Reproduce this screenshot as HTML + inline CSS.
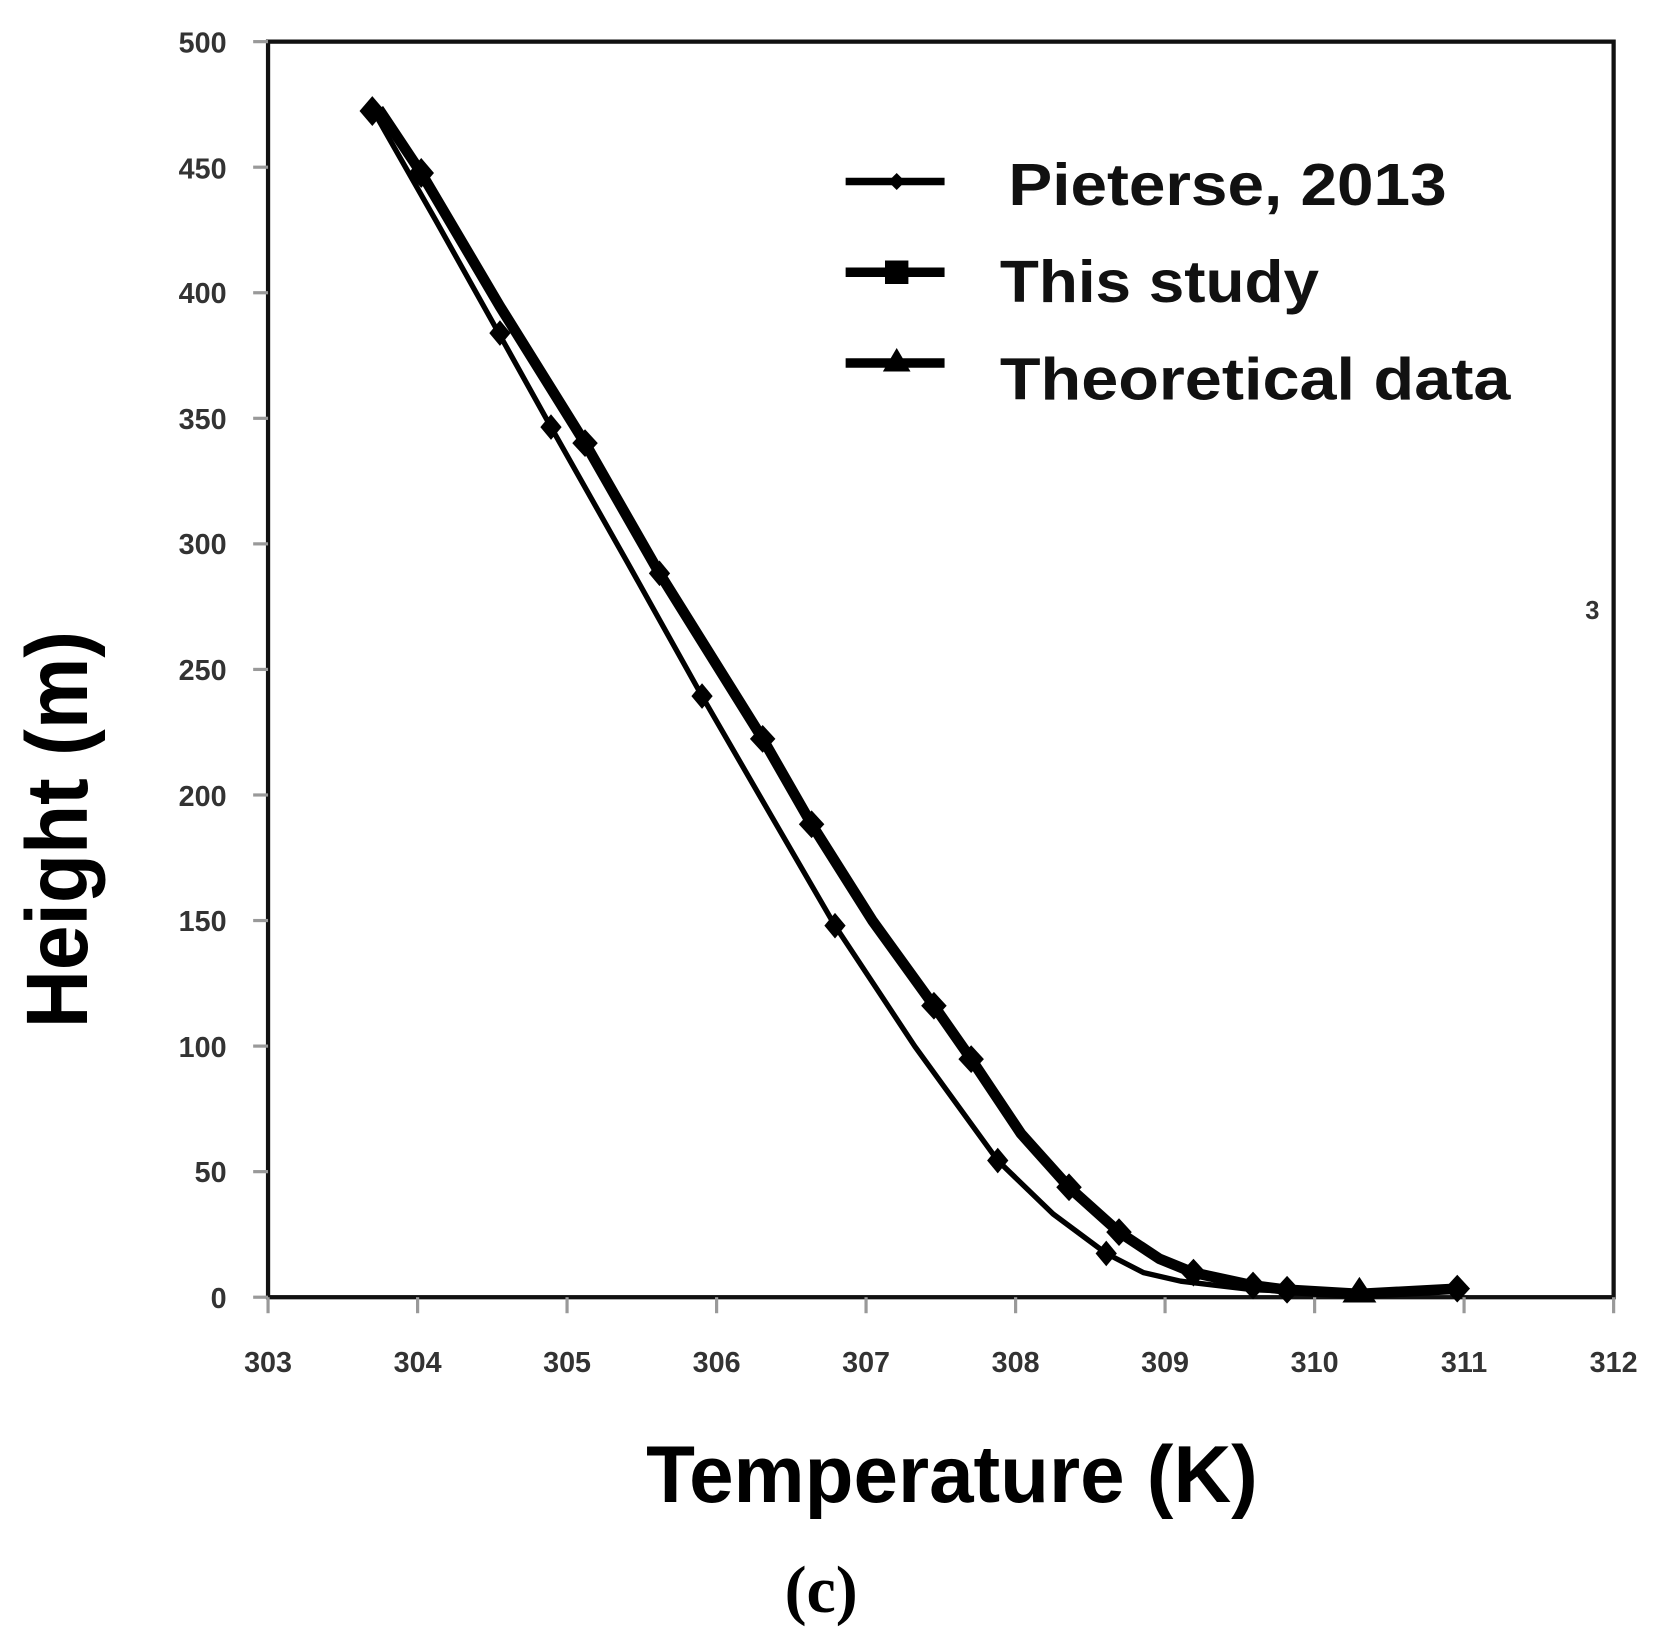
<!DOCTYPE html>
<html><head><meta charset="utf-8"><style>html,body{margin:0;padding:0;background:#fff}svg{display:block}</style></head>
<body>
<svg width="1670" height="1641" viewBox="0 -2 1570 1537" preserveAspectRatio="none" xmlns="http://www.w3.org/2000/svg" font-family="Liberation Sans, sans-serif">
<rect x="0" y="-2" width="1570" height="1537" fill="#fff"/>
<rect x="252" y="37" width="1265" height="1176" fill="none" stroke="#111" stroke-width="4"/>
<g stroke="#999" stroke-width="3">
<line x1="238" y1="37" x2="252" y2="37"/><line x1="238" y1="154.6" x2="252" y2="154.6"/><line x1="238" y1="272.2" x2="252" y2="272.2"/><line x1="238" y1="389.8" x2="252" y2="389.8"/><line x1="238" y1="507.4" x2="252" y2="507.4"/><line x1="238" y1="625" x2="252" y2="625"/><line x1="238" y1="742.6" x2="252" y2="742.6"/><line x1="238" y1="860.2" x2="252" y2="860.2"/><line x1="238" y1="977.8" x2="252" y2="977.8"/><line x1="238" y1="1095.4" x2="252" y2="1095.4"/><line x1="238" y1="1213" x2="252" y2="1213"/>
<line x1="252" y1="1213" x2="252" y2="1228"/><line x1="392.6" y1="1213" x2="392.6" y2="1228"/><line x1="533.1" y1="1213" x2="533.1" y2="1228"/><line x1="673.7" y1="1213" x2="673.7" y2="1228"/><line x1="814.2" y1="1213" x2="814.2" y2="1228"/><line x1="954.8" y1="1213" x2="954.8" y2="1228"/><line x1="1095.3" y1="1213" x2="1095.3" y2="1228"/><line x1="1235.9" y1="1213" x2="1235.9" y2="1228"/><line x1="1376.4" y1="1213" x2="1376.4" y2="1228"/><line x1="1517" y1="1213" x2="1517" y2="1228"/>
</g>
<g font-size="27" font-weight="bold" fill="#333" text-anchor="end">
<text x="213" y="47">500</text><text x="213" y="165">450</text><text x="213" y="282">400</text><text x="213" y="400">350</text><text x="213" y="517">300</text><text x="213" y="635">250</text><text x="213" y="753">200</text><text x="213" y="870">150</text><text x="213" y="988">100</text><text x="213" y="1105">50</text><text x="213" y="1223">0</text>
</g>
<g font-size="27" font-weight="bold" fill="#333" text-anchor="middle">
<text x="252" y="1283">303</text><text x="392.6" y="1283">304</text><text x="533.1" y="1283">305</text><text x="673.7" y="1283">306</text><text x="814.2" y="1283">307</text><text x="954.8" y="1283">308</text><text x="1095.3" y="1283">309</text><text x="1235.9" y="1283">310</text><text x="1376.4" y="1283">311</text><text x="1517" y="1283">312</text>
</g>
<text x="1497" y="578" font-size="24" font-weight="bold" fill="#333" text-anchor="middle">3</text>
<polyline points="350,100 410,205 470,312 518,398 590,525 660,650 725,762 785,865 860,978 938,1085 990,1135 1040,1172 1075,1190 1110,1198 1178,1206 1278,1210 1370,1205" fill="none" stroke="#000" stroke-width="5" stroke-linejoin="round"/>
<polyline points="356,100 396,160 470,285 550,413 620,535 717,690 763,770 820,860 878,940 913,990 960,1060 1005,1110 1052,1152 1090,1177 1122,1190 1178,1202 1210,1206 1278,1210 1370,1205" fill="none" stroke="#000" stroke-width="10" stroke-linejoin="round"/>
<g fill="#000">
<path d="M350,88 l12,14 -12,14 -12,-14z"/><path d="M470,298 l10,12 -10,12 -10,-12z"/><path d="M518,386 l10,12 -10,12 -10,-12z"/><path d="M620,523 l10,12 -10,12 -10,-12z"/><path d="M660,638 l10,12 -10,12 -10,-12z"/><path d="M785,853 l10,12 -10,12 -10,-12z"/><path d="M938,1073 l10,12 -10,12 -10,-12z"/><path d="M1040,1160 l10,12 -10,12 -10,-12z"/>
<path d="M396,146 l12,14 -12,14 -12,-14z"/><path d="M550,400 l12,13 -12,13 -12,-13z"/><path d="M717,677 l12,13 -12,13 -12,-13z"/><path d="M763,757 l12,13 -12,13 -12,-13z"/><path d="M878,927 l12,13 -12,13 -12,-13z"/><path d="M913,977 l12,13 -12,13 -12,-13z"/><path d="M1005,1097 l12,13 -12,13 -12,-13z"/><path d="M1052,1139 l12,13 -12,13 -12,-13z"/><path d="M1122,1177 l12,13 -12,13 -12,-13z"/><path d="M1178,1189 l12,13 -12,13 -12,-13z"/><path d="M1210,1193 l12,13 -12,13 -12,-13z"/><path d="M1370,1192 l12,13 -12,13 -12,-13z"/>
<path d="M1278,1194 l16,24 -32,0z"/>
</g>
<g stroke="#000">
<line x1="795" y1="168" x2="888" y2="168" stroke-width="7"/>
<line x1="795" y1="253" x2="888" y2="253" stroke-width="9"/>
<line x1="795" y1="338" x2="888" y2="338" stroke-width="9"/>
</g>
<g fill="#000">
<path d="M843,160 l8,8 -8,8 -8,-8z"/><rect x="832" y="242" width="22" height="22"/><path d="M843,324 l13,22 -26,0z"/>
</g>
<g font-weight="bold" fill="#111" font-size="56">
<text x="948" y="190" textLength="412" lengthAdjust="spacingAndGlyphs">Pieterse, 2013</text>
<text x="940" y="281" textLength="300" lengthAdjust="spacingAndGlyphs">This study</text>
<text x="940" y="372" textLength="480" lengthAdjust="spacingAndGlyphs">Theoretical data</text>
</g>
<text transform="translate(82,775) rotate(-90)" font-size="82" font-weight="bold" fill="#000" text-anchor="middle" textLength="372" lengthAdjust="spacingAndGlyphs">Height (m)</text>
<text x="895" y="1405" font-size="76" font-weight="bold" fill="#000" text-anchor="middle" textLength="575" lengthAdjust="spacingAndGlyphs">Temperature (K)</text>
<text x="772" y="1508" font-size="62" font-weight="bold" fill="#000" text-anchor="middle" font-family="Liberation Serif, serif">(c)</text>
</svg>
</body></html>
